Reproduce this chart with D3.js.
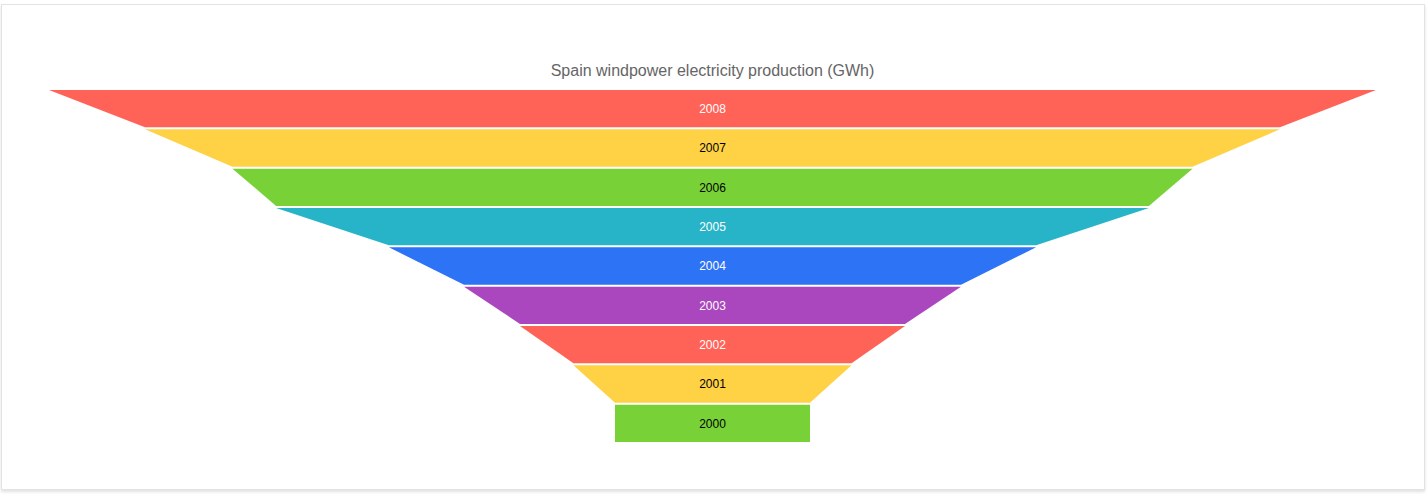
<!DOCTYPE html>
<html><head><meta charset="utf-8">
<script src="https://cdn.jsdelivr.net/npm/d3@7"></script>
<style>
html,body{margin:0;padding:0;background:#fff;}
#card{position:absolute;left:1px;top:4px;width:1422px;height:484px;border:1px solid #e3e3e3;box-shadow:0 2px 3px rgba(0,0,0,0.12);background:#fff;}
svg{position:absolute;left:0;top:0;}
</style></head>
<body>
<div id="card"></div>
<svg id="chart" width="1427" height="494"></svg>
<script>
const categories = ["2008","2007","2006","2005","2004","2003","2002","2001","2000"];
const values = [31777, 27180, 22990, 20900, 15500, 11900, 9220, 6660, 4670];
const colors = ["#ff6358","#ffd246","#78d237","#28b4c8","#2d73f5","#aa46be","#ff6358","#ffd246","#78d237"];
const labelColors = ["#ffffff","#000000","#000000","#ffffff","#ffffff","#ffffff","#ffffff","#000000","#000000"];
const title = "Spain windpower electricity production (GWh)";

(function(){
const svg = d3.select("#chart");
const cx = 712.5, yTop = 90, yBottom = 444, gap = 2;
const w = d3.scaleLinear().domain([0, d3.max(values)]).range([0, 1327]);
const y = d3.scaleBand().domain(categories).range([yTop, yBottom]).paddingInner(0);
const h = y.bandwidth();

svg.append("text").attr("x", cx).attr("y", 76).attr("text-anchor","middle")
  .attr("font-family","Liberation Sans, Arial, sans-serif").attr("font-size",16)
  .attr("fill","#656565").text(title);

const g = svg.append("g");
categories.forEach((c, i) => {
  const tw = w(values[i]);
  const bw = i < values.length - 1 ? w(values[i+1]) : tw;
  const y0 = y(c), y1 = y0 + h - gap;
  const pts = [[cx - tw/2, y0],[cx + tw/2, y0],[cx + bw/2, y1],[cx - bw/2, y1]];
  g.append("path").attr("d", d3.line()(pts) + "Z").attr("fill", colors[i]);
  g.append("text").attr("x", cx).attr("y", y0 + (h - gap)/2).attr("dy","0.35em")
    .attr("text-anchor","middle").attr("font-family","Liberation Sans, Arial, sans-serif")
    .attr("font-size",12).attr("fill", labelColors[i]).text(c);
});
})();
</script>
</body></html>
